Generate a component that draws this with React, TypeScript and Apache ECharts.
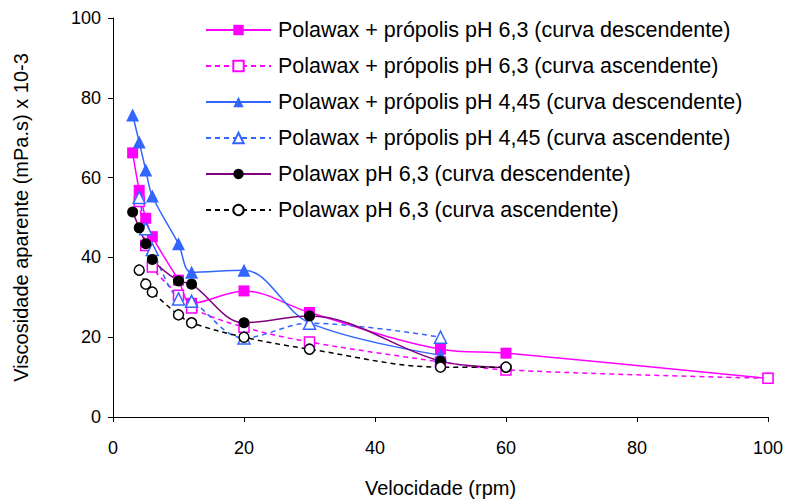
import React, { useEffect, useRef } from "react";
import * as echarts from "echarts";

const FONT = "'Liberation Sans', Arial, sans-serif";

const xTitle = "Velocidade (rpm)";
const yTitle = "Viscosidade aparente (mPa.s) x 10-3";

const seriesNames = [
  "Polawax + própolis pH 6,3 (curva descendente)",
  "Polawax + própolis pH 6,3 (curva ascendente)",
  "Polawax + própolis pH 4,45 (curva descendente)",
  "Polawax + própolis pH 4,45 (curva ascendente)",
  "Polawax pH 6,3 (curva descendente)",
  "Polawax pH 6,3 (curva ascendente)",
];

const x1 = [3, 4, 5, 6, 10, 12, 20, 30, 50, 60, 100];
const y1 = [66.2, 56.8, 49.8, 45.2, 34.3, 28.5, 31.6, 26.2, 17.0, 16.0, 9.7];

const x2 = [4, 5, 6, 10, 12, 20, 30, 50, 60, 100];
const y2 = [54.0, 43.0, 37.6, 30.5, 27.3, 22.5, 18.8, 13.8, 11.8, 9.7];

const x3 = [3, 4, 5, 6, 10, 12, 20, 30, 50];
const y3 = [75.7, 68.9, 61.9, 55.4, 43.4, 36.3, 36.8, 23.6, 15.5];

const x4 = [4, 5, 6, 10, 12, 20, 30, 50];
const y4 = [55.0, 47.2, 42.0, 29.6, 29.0, 19.8, 23.5, 20.0];

const x5 = [3, 4, 5, 6, 10, 12, 20, 30, 50, 60];
const y5 = [51.4, 47.4, 43.4, 39.5, 34.1, 33.3, 23.6, 25.3, 14.0, 12.4];

const x6 = [4, 5, 6, 10, 12, 20, 30, 50, 60];
const y6 = [36.8, 33.3, 31.3, 25.6, 23.6, 20.0, 17.0, 12.5, 12.5];

const xTicks = [0, 20, 40, 60, 80, 100];
const yTicks = [0, 20, 40, 60, 80, 100];

const MAGENTA = "#FF00FF";
const BLUE = "#3366FF";
const PURPLE = "#800080";
const BLACK = "#000000";

function zip(xs: number[], ys: number[]) {
  return xs.map((x, i) => [x, ys[i]]);
}

export default function App() {
  const ref = useRef<HTMLDivElement>(null);
  useEffect(() => {
    if (!ref.current) return;
    const chart = echarts.init(ref.current, undefined, { renderer: "svg" });

    const mk = (
      name: string,
      data: number[][],
      lineColor: string,
      markColor: string,
      symbol: string,
      size: number,
      hollow: boolean,
      dashed: boolean
    ) => ({
      name,
      type: "line",
      data,
      smooth: 0.35,
      symbol,
      symbolSize: size,
      showSymbol: true,
      lineStyle: {
        color: lineColor,
        width: 1.5,
        type: dashed ? [5, 4] : "solid",
      },
      itemStyle: hollow
        ? { color: "#FFFFFF", borderColor: markColor, borderWidth: 1.5 }
        : { color: markColor, borderColor: markColor, borderWidth: 0 },
      emphasis: { disabled: true },
    });

    chart.setOption({
      animation: false,
      backgroundColor: "#FFFFFF",
      textStyle: { fontFamily: FONT },
      grid: { left: 113, right: 20, top: 18, bottom: 86, outerBoundsMode: "none" },
      legend: {
        orient: "vertical",
        left: 200,
        top: 14,
        itemWidth: 65,
        itemHeight: 13,
        itemGap: 14,
        textStyle: {
          fontFamily: FONT,
          fontSize: 21.5,
          color: "#000",
          padding: [0, 0, 0, 2],
        },
        data: seriesNames,
        selectedMode: false,
      },
      xAxis: {
        type: "value",
        min: xTicks[0],
        max: xTicks[xTicks.length - 1],
        interval: 20,
        name: xTitle,
        nameLocation: "middle",
        nameGap: 61,
        nameTextStyle: { fontFamily: FONT, fontSize: 20, color: "#000" },
        axisLine: { show: true, lineStyle: { color: "#000", width: 1 } },
        axisTick: { show: true, inside: false, length: 5, lineStyle: { color: "#000" } },
        axisLabel: { fontFamily: FONT, fontSize: 18, color: "#000", margin: 22 },
        splitLine: { show: false },
      },
      yAxis: {
        type: "value",
        min: yTicks[0],
        max: yTicks[yTicks.length - 1],
        interval: 20,
        name: yTitle,
        nameLocation: "middle",
        nameGap: 82,
        nameTextStyle: { fontFamily: FONT, fontSize: 20, color: "#000" },
        axisLine: { show: true, lineStyle: { color: "#000", width: 1 } },
        axisTick: { show: true, inside: false, length: 5, lineStyle: { color: "#000" } },
        axisLabel: { fontFamily: FONT, fontSize: 18, color: "#000", margin: 12 },
        splitLine: { show: false },
      },
      series: [
        mk(seriesNames[0], zip(x1, y1), MAGENTA, MAGENTA, "rect", 11, false, false),
        mk(seriesNames[1], zip(x2, y2), MAGENTA, MAGENTA, "rect", 10, true, true),
        mk(seriesNames[2], zip(x3, y3), BLUE, BLUE, "triangle", 13, false, false),
        mk(seriesNames[3], zip(x4, y4), BLUE, BLUE, "triangle", 12, true, true),
        mk(seriesNames[4], zip(x5, y5), PURPLE, BLACK, "circle", 11, false, false),
        mk(seriesNames[5], zip(x6, y6), BLACK, BLACK, "circle", 10, true, true),
      ],
    });
    return () => chart.dispose();
  }, []);
  return (
    <div
      ref={ref}
      style={{ position: "absolute", left: 0, top: 0, width: 788, height: 503 }}
    />
  );
}
